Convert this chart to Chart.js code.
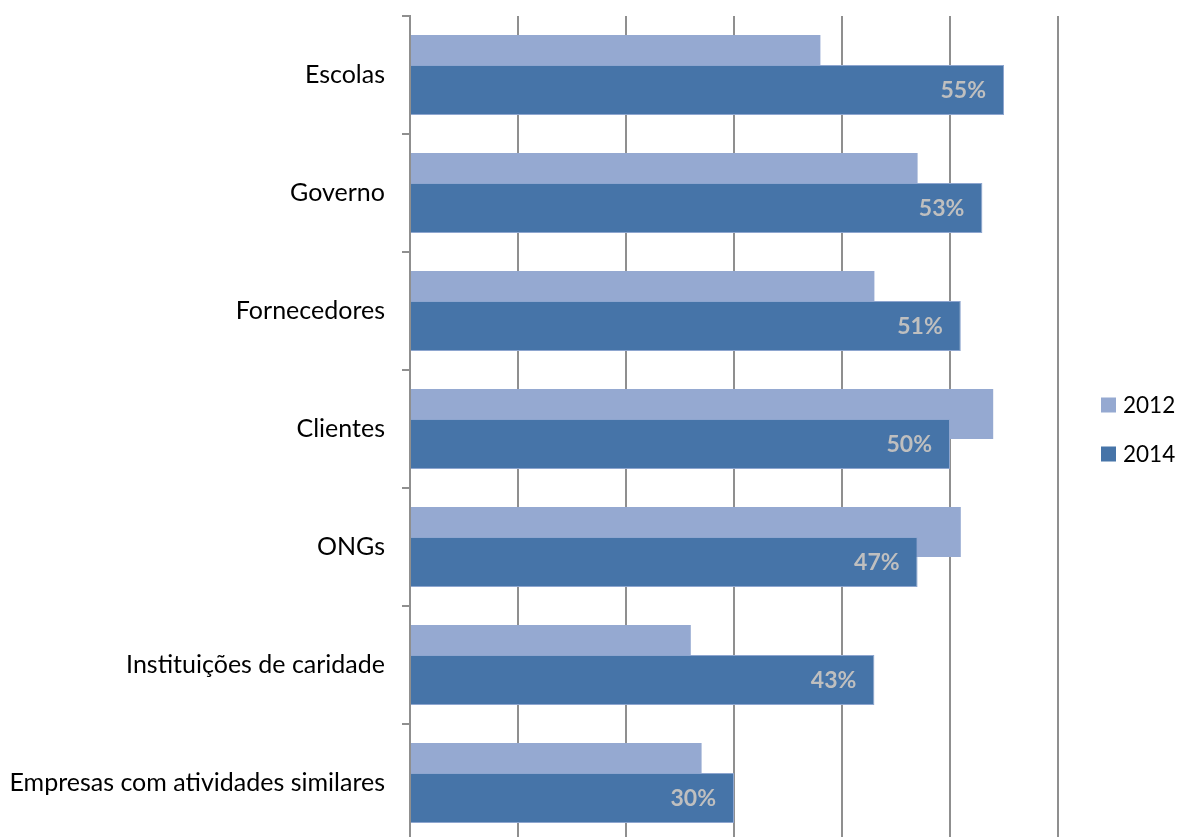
<!DOCTYPE html>
<html>
<head>
<meta charset="utf-8">
<script src="https://cdn.jsdelivr.net/npm/chart.js@4.4.0/dist/chart.umd.min.js"></script>
<style>
  html, body { margin: 0; padding: 0; background: #fff; overflow: hidden; }
  #wrap { width: 1178px; height: 858px; }
</style>
</head>
<body>
<div id="wrap"><canvas id="chart"></canvas></div>
<script>
const categorias = [
    "Escolas",
    "Governo",
    "Fornecedores",
    "Clientes",
    "ONGs",
    "Instituições de caridade",
    "Empresas com atividades similares"
];
const valores2012 = [38, 47, 43, 54, 51, 26, 27];
const valores2014 = [55, 53, 51, 50, 47, 43, 30];
const escalaX = { min: 0, max: 60, passo: 10 };

const FONTE = "Lato, 'Open Sans', sans-serif";
const COR_2012 = "#95a9d1";
const COR_2014 = "#4674a8";
const COR_GRADE = "#8f8f8f";

// 2014 tem de ficar por cima de 2012, mas o Chart.js pinta o primeiro dataset por último
const barrasPorCima = {
    id: "barrasPorCima",
    beforeDatasetDraw(chart, args) {
        if (args.index === 1) return false;
    },
    afterDatasetsDraw(chart) {
        const meta = chart.getDatasetMeta(1);
        meta.controller.draw();

        // rótulos de valor dentro do fim das barras de 2014
        const ctx = chart.ctx;
        ctx.save();
        ctx.font = "bold 23px " + FONTE;
        ctx.fillStyle = "#bfbfbf";
        ctx.textAlign = "right";
        ctx.textBaseline = "middle";
        meta.data.forEach((bar, i) => {
            ctx.fillText(valores2014[i] + "%", bar.x - 18, bar.y + 1);
        });
        ctx.restore();
    }
};

// legenda à direita da área do gráfico
const legendaLateral = {
    id: "legendaLateral",
    afterDraw(chart) {
        const ctx = chart.ctx;
        const area = chart.chartArea;
        const sets = chart.data.datasets;
        const passo = 49;
        const meio = (area.top + area.bottom) / 2;
        let y = meio - passo * (sets.length - 1) / 2;
        ctx.save();
        ctx.font = "22.5px " + FONTE;
        ctx.textBaseline = "middle";
        sets.forEach(ds => {
            ctx.fillStyle = ds.backgroundColor;
            ctx.fillRect(area.right + 43, y - 7, 15, 15);
            ctx.fillStyle = "#000";
            ctx.fillText(ds.label, area.right + 65, y + 1);
            y += passo;
        });
        ctx.restore();
    }
};

new Chart(document.getElementById("chart"), {
    type: "bar",
    data: {
        labels: categorias,
        datasets: [
            {
                label: "2012",
                data: valores2012,
                backgroundColor: COR_2012,
                borderWidth: 0
            },
            {
                label: "2014",
                data: valores2014,
                backgroundColor: COR_2014,
                borderColor: "#8ea6cf",
                borderWidth: 1
            }
        ]
    },
    options: {
        indexAxis: "y",
        responsive: true,
        maintainAspectRatio: false,
        animation: false,
        // barras de 50px, deslocadas 15px para cima e para baixo (sobrepostas)
        categoryPercentage: 60 / 118,
        barPercentage: 50 / 30,
        layout: {
            padding: { top: 16, right: 120, bottom: 16, left: 0 }
        },
        scales: {
            x: {
                min: escalaX.min,
                max: escalaX.max,
                afterFit(scale) { scale.height = 0; },
                ticks: { display: false, stepSize: escalaX.passo },
                grid: { color: COR_GRADE, lineWidth: 2, drawTicks: false },
                border: { display: false }
            },
            y: {
                offset: true,
                afterFit(scale) {
                    scale.width = 410;
                    scale.paddingTop = 0;
                    scale.paddingBottom = 0;
                },
                ticks: {
                    color: "#000",
                    padding: 17,
                    font: { family: FONTE, size: 25 }
                },
                grid: {
                    offset: true,
                    drawOnChartArea: false,
                    drawTicks: true,
                    tickLength: 8,
                    color: COR_GRADE,
                    lineWidth: 2
                },
                border: { display: true, color: COR_GRADE, width: 2 }
            }
        },
        plugins: {
            legend: { display: false },
            tooltip: { enabled: false }
        }
    },
    plugins: [barrasPorCima, legendaLateral]
});
</script>
</body>
</html>
